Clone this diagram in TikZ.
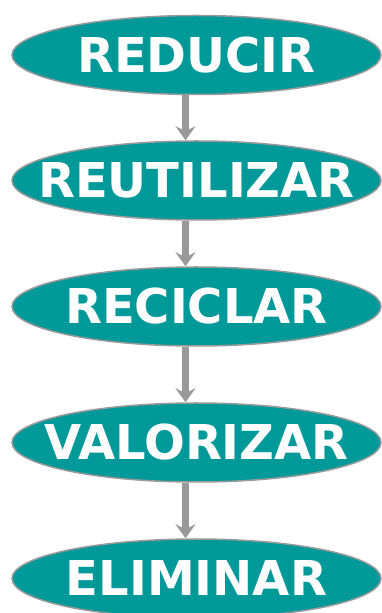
\documentclass[tikz,border=0pt]{standalone}
\usepackage{fontspec}
\setmainfont{DejaVu Sans}
\usetikzlibrary{arrows.meta}
\usetikzlibrary{shapes}
\definecolor{verde}{RGB}{0,153,153}
\definecolor{gris}{RGB}{153,153,153}
\tikzset{
	etapa/.style={
		draw=gris,
		line width=1.5pt,
		fill=verde,
		ellipse,
		minimum width=369pt,
		minimum height=79pt,
		inner sep=0pt,
		text=white,
		font=\fontsize{48}{48}\selectfont\bfseries,
	},
	flecha/.style={
		draw=gris,
		line width=7pt,
		-{Stealth[length=14pt,width=20pt,inset=5pt]},
	},
}
\newcommand{\etiqueta}[1]{\makebox[0pt]{#1}}

\begin{document}
\begin{tikzpicture}[x=1pt,y=1pt]
	\useasboundingbox (0,0) rectangle (382,613);

	\node[etapa] (reducir) at (196.5,558) {\etiqueta{REDUCIR}};
	\node[etapa] (reutilizar) at (196.5,432.5) {\etiqueta{REUTILIZAR}};
	\node[etapa] (reciclar) at (196.5,306.5) {\etiqueta{RECICLAR}};
	\node[etapa] (valorizar) at (196.5,170.5) {\etiqueta{VALORIZAR}};
	\node[etapa] (eliminar) at (196.5,34.5) {\etiqueta{ELIMINAR}};

	\draw[flecha] ([xshift=-11pt]reducir.south) -- ([xshift=-11pt]reutilizar.north);
	\draw[flecha] ([xshift=-11pt]reutilizar.south) -- ([xshift=-11pt]reciclar.north);
	\draw[flecha] ([xshift=-11pt]reciclar.south) -- ([xshift=-11pt]valorizar.north);
	\draw[flecha] ([xshift=-11pt]valorizar.south) -- ([xshift=-11pt]eliminar.north);

\end{tikzpicture}
\end{document}
